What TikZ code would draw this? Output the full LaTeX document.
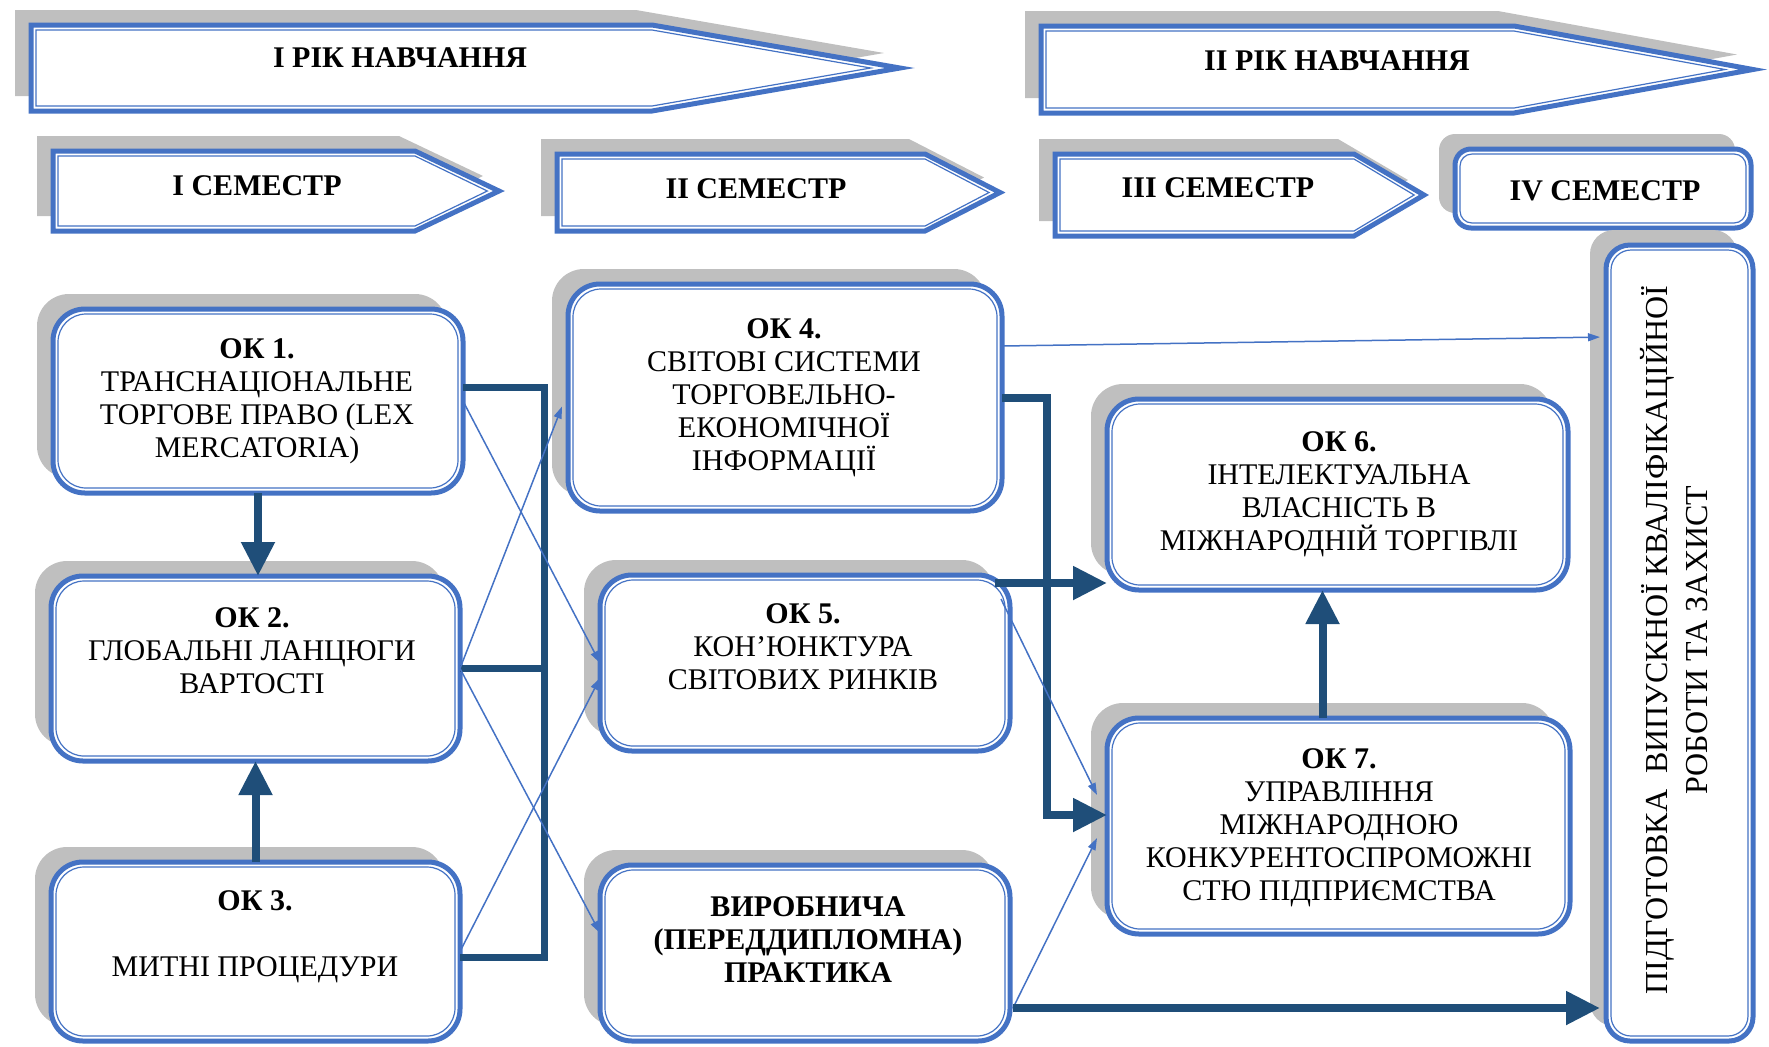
\documentclass[tikz,border=0pt]{standalone}
\usepackage{fontspec}
\setmainfont{Liberation Serif}
\usetikzlibrary{arrows.meta,calc,fit,shadows}
\definecolor{bl}{HTML}{4472C4}
\definecolor{dk}{HTML}{1F4E79}
\definecolor{sh}{HTML}{BFBFBF}
\tikzset{
 outerline/.style={draw=bl, line width=2.5pt},
 innerline/.style={draw=bl, line width=0.6pt},
 okbox/.style={outerline, fill=white, rectangle, rounded corners=#1, inner sep=0pt, outer sep=0pt,
   drop shadow={shadow xshift=-8pt, shadow yshift=7.5pt, fill=sh, opacity=1}},
 okbox/.default=16pt,
 txt/.style={font=\fontsize{15pt}{16.5pt}\selectfont, align=center, inner sep=0pt},
 hdr/.style={txt, font=\fontsize{15pt}{16.5pt}\selectfont\bfseries},
 bus/.style={draw=dk, line width=3.5pt},
 thickarr/.style={draw=dk, line width=4pt, -{Triangle[length=17pt,width=16pt]}},
 thinarr/.style={draw=bl, line width=0.75pt, -{Triangle[length=6pt,width=4pt]}},
}
\newcommand\innerbox[2]{\draw[innerline, rounded corners=#2] ([shift={(5,5)}]#1.north west) rectangle ([shift={(-5,-5)}]#1.south east);}
\newcommand\chev[5]{%
 \pgfmathsetmacro\chM{(#2+#3)/2}%
 \pgfmathsetmacro\chXi{#5-5*sqrt(1+((#5-#4)/(\chM-#2))^2)}%
 \fill[sh] (#1-16,#2-15) -- (#4-16,#2-15) -- (#5-16,\chM-15) -- (#4-16,#3-15) -- (#1-16,#3-15) -- cycle;
 \draw[outerline, fill=white] (#1,#2) -- (#4,#2) -- (#5,\chM) -- (#4,#3) -- (#1,#3) -- cycle;
 \draw[innerline] (#1+5,#2+5) -- (#4,#2+5) -- (\chXi,\chM) -- (#4,#3-5) -- (#1+5,#3-5) -- cycle;
}
\begin{document}
\begin{tikzpicture}[x=0.5pt,y=-0.5pt]
\useasboundingbox (0,0) rectangle (1769,1046);
% year arrows
\chev{31}{25}{111}{652}{900}
\node[hdr] (y1) at (400,58) {І РІК НАВЧАННЯ};
\chev{1041}{26}{113}{1514}{1753}
\node[hdr] (y2) at (1337,61) {ІІ РІК НАВЧАННЯ};
% semester arrows
\chev{53}{151}{231}{415}{499}
\node[hdr] (s1) at (257,186) {І СЕМЕСТР};
\chev{557}{154}{231}{925}{1000}
\node[hdr] (s2) at (756,189) {ІІ СЕМЕСТР};
\chev{1055}{154}{236}{1354}{1424}
\node[hdr] (s3) at (1218,188) {ІІІ СЕМЕСТР};
\node[okbox=8pt, fit={(1455,149)(1751,228)}] (s4box) {};
\innerbox{s4box}{6pt}
\node[hdr] (s4) at (1605,191) {IV СЕМЕСТР};
% right box
\node[okbox=12pt, fit={(1606,245)(1753,1041)}] (rb) {};
\innerbox{rb}{10pt}
% boxes
\node[okbox, fit={(53,309)(463,493)}] (ok1) {};
\node[okbox, fit={(51,576)(460,761)}] (ok2) {};
\node[okbox, fit={(51,862)(460,1041)}] (ok3) {};
\node[okbox, fit={(568,284)(1002,511)}] (ok4) {};
\node[okbox, fit={(600,575)(1010,751)}] (ok5) {};
\node[okbox, fit={(600,865)(1010,1041)}] (vyr) {};
\node[okbox, fit={(1107,399)(1568,590)}] (ok6) {};
\node[okbox, fit={(1107,718)(1570,934)}] (ok7) {};
\innerbox{ok1}{14pt}\innerbox{ok2}{14pt}\innerbox{ok3}{14pt}\innerbox{ok4}{14pt}
\innerbox{ok5}{14pt}\innerbox{vyr}{14pt}\innerbox{ok6}{14pt}\innerbox{ok7}{14pt}
% texts
\node[txt] (t1) at (257,401) {\textbf{ОК 1.}\\ТРАНСНАЦІОНАЛЬНЕ\\ТОРГОВЕ ПРАВО (LEX\\MERCATORIA)};
\node[txt] (t2) at (252,651) {\textbf{ОК 2.}\\ГЛОБАЛЬНІ ЛАНЦЮГИ\\ВАРТОСТІ};
\node[txt] (t3) at (255,937) {\textbf{ОК 3.}\\[16.5pt]МИТНІ ПРОЦЕДУРИ};
\node[txt] (t4) at (784,398) {\textbf{ОК 4.}\\СВІТОВІ СИСТЕМИ\\ТОРГОВЕЛЬНО-\\ЕКОНОМІЧНОЇ\\ІНФОРМАЦІЇ};
\node[txt] (t5) at (803,647) {\textbf{ОК 5.}\\КОН’ЮНКТУРА\\СВІТОВИХ РИНКІВ};
\node[hdr] (t8) at (808,940) {ВИРОБНИЧА\\(ПЕРЕДДИПЛОМНА)\\ПРАКТИКА};
\node[txt] (t6) at (1339,494) {\textbf{ОК 6.}\\ІНТЕЛЕКТУАЛЬНА\\ВЛАСНІСТЬ В\\МІЖНАРОДНІЙ ТОРГІВЛІ};
\node[txt] (t7) at (1339,828) {\textbf{ОК 7.}\\УПРАВЛІННЯ\\МІЖНАРОДНОЮ\\КОНКУРЕНТОСПРОМОЖНІ\\СТЮ ПІДПРИЄМСТВА};
\node[txt, rotate=90, font=\fontsize{16pt}{20pt}\selectfont] (rbt) at (1674,640) {ПІДГОТОВКА\ \ ВИПУСКНОЇ КВАЛІФІКАЦІЙНОЇ\\РОБОТИ ТА ЗАХИСТ};
% bus on the left
\coordinate (bt) at ($(ok1.east)+(81,-14)$);
\coordinate (bb) at ($(ok3.east)+(84,6)$);
\draw[bus] (ok1.east |- bt) -- (bt) -- (bb) -- (ok3.east |- bb);
\draw[bus] (ok2.east) -- (ok2.east -| bt);
% thin arrows, column 1 -> column 2
\draw[thinarr] (ok1.east) -- (ok5.west);
\draw[thinarr] (ok2.east) -- ($(ok4.west)+(-6,9)$);
\draw[thinarr] (ok2.east) -- ($(vyr.west)+(0,-20)$);
\draw[thinarr] (ok3.east) -- ($(ok5.west)+(0,15)$);
% thick vertical arrows
\draw[thickarr] (ok1.south) -- (ok1.south |- ok2.north);
\draw[thickarr] (ok3.north) -- (ok3.north |- ok2.south);
\draw[thickarr] ($(ok7.north)+(-16,0)$) coordinate (s7) -- (s7 |- ok6.south);
% column 2 -> column 3
\draw[thinarr, shorten >=3pt] ($(ok4.north east)+(0,62)$) -- ($(rb.north west)+(0,92)$);
\draw[thickarr] (ok4.east) -| ($(ok7.west)+(-60,-11)$) -- ($(ok7.west)+(0,-11)$);
\draw[thickarr] ($(ok5.north east)+(-15,8)$) coordinate (s5) -- (s5 -| ok6.west);
\draw[thinarr] ($(ok5.north east)+(-9,24)$) -- ($(ok7.west)+(-10,-31)$);
\draw[thinarr] ($(vyr.south east)+(3,-33)$) -- ($(ok7.west)+(-10,12)$);
\draw[thickarr, shorten >=3pt] ($(vyr.south east)+(3,-33)$) coordinate (sv) -- (sv -| rb.west);
\end{tikzpicture}
\end{document}
